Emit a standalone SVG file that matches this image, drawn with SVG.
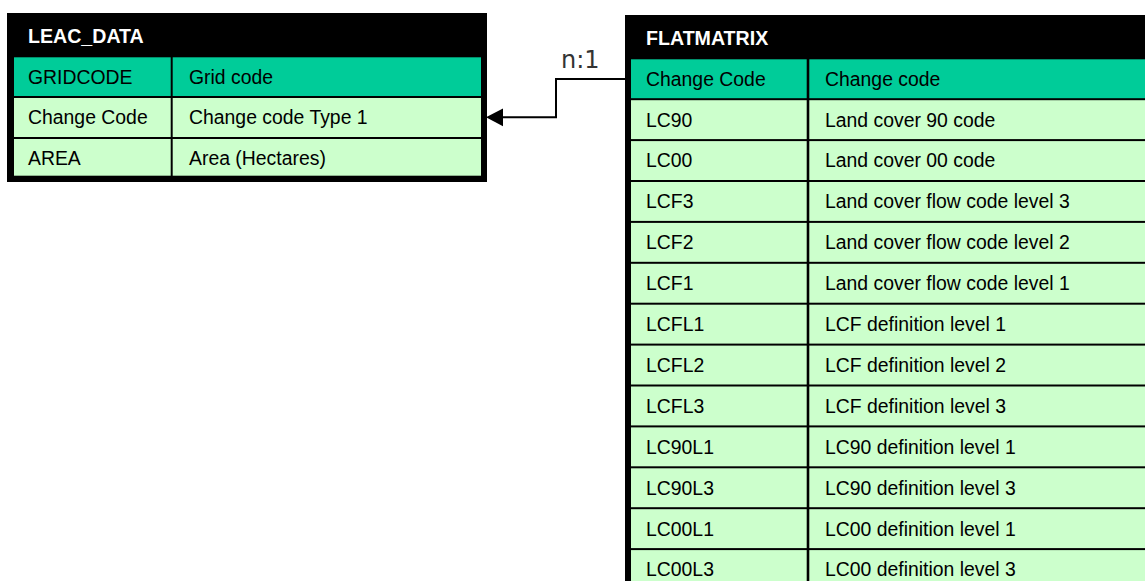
<svg xmlns="http://www.w3.org/2000/svg" width="1145" height="581" viewBox="0 0 1145 581">
<style>
.frame{fill:#000}
.key{fill:#00CC99}
.cell{fill:#CCFFCC}
.hdr{font-family:"Liberation Sans",Arial,sans-serif;font-weight:bold;font-size:19.6px;fill:#fff}
.t{font-family:"Liberation Sans",Arial,sans-serif;font-size:19.4px;fill:#000}
.lbl{font-family:"DejaVu Sans",Verdana,sans-serif;font-size:24px;fill:#333}
.conn{fill:none;stroke:#000;stroke-width:2}
</style>
<rect width="1145" height="581" fill="#fff"/>
<g id="LEAC_DATA">
<rect class="frame" x="7" y="13" width="480" height="169"/>
<text class="hdr" x="28" y="43">LEAC_DATA</text>
<rect class="key" x="14" y="57.3" width="156.7" height="38.7"/>
<rect class="key" x="172.7" y="57.3" width="308.3" height="38.7"/>
<rect class="cell" x="14" y="98" width="156.7" height="39"/>
<rect class="cell" x="172.7" y="98" width="308.3" height="39"/>
<rect class="cell" x="14" y="139" width="156.7" height="36.7"/>
<rect class="cell" x="172.7" y="139" width="308.3" height="36.7"/>
<text class="t" x="28" y="83.5">GRIDCODE</text>
<text class="t" x="189" y="83.5">Grid code</text>
<text class="t" x="28" y="124.3">Change Code</text>
<text class="t" x="189" y="124.3">Change code Type 1</text>
<text class="t" x="28" y="165.2">AREA</text>
<text class="t" x="189" y="165.2">Area (Hectares)</text>
</g>
<g id="FLATMATRIX">
<rect class="frame" x="625" y="15" width="530" height="580"/>
<text class="hdr" x="646" y="45">FLATMATRIX</text>
<rect class="key" x="631" y="59.3" width="175.7" height="38.9"/>
<rect class="key" x="809.3" y="59.3" width="340" height="38.9"/>
<text class="t" x="646" y="85.6">Change Code</text>
<text class="t" x="825" y="85.6">Change code</text>
<rect class="cell" x="631" y="100.2" width="175.7" height="38.9"/>
<rect class="cell" x="809.3" y="100.2" width="340" height="38.9"/>
<text class="t" x="646" y="126.5">LC90</text>
<text class="t" x="825" y="126.5">Land cover 90 code</text>
<rect class="cell" x="631" y="141.1" width="175.7" height="38.9"/>
<rect class="cell" x="809.3" y="141.1" width="340" height="38.9"/>
<text class="t" x="646" y="167.4">LC00</text>
<text class="t" x="825" y="167.4">Land cover 00 code</text>
<rect class="cell" x="631" y="182" width="175.7" height="38.9"/>
<rect class="cell" x="809.3" y="182" width="340" height="38.9"/>
<text class="t" x="646" y="208.3">LCF3</text>
<text class="t" x="825" y="208.3">Land cover flow code level 3</text>
<rect class="cell" x="631" y="222.9" width="175.7" height="38.9"/>
<rect class="cell" x="809.3" y="222.9" width="340" height="38.9"/>
<text class="t" x="646" y="249.2">LCF2</text>
<text class="t" x="825" y="249.2">Land cover flow code level 2</text>
<rect class="cell" x="631" y="263.8" width="175.7" height="38.9"/>
<rect class="cell" x="809.3" y="263.8" width="340" height="38.9"/>
<text class="t" x="646" y="290.1">LCF1</text>
<text class="t" x="825" y="290.1">Land cover flow code level 1</text>
<rect class="cell" x="631" y="304.7" width="175.7" height="38.9"/>
<rect class="cell" x="809.3" y="304.7" width="340" height="38.9"/>
<text class="t" x="646" y="331">LCFL1</text>
<text class="t" x="825" y="331">LCF definition level 1</text>
<rect class="cell" x="631" y="345.6" width="175.7" height="38.9"/>
<rect class="cell" x="809.3" y="345.6" width="340" height="38.9"/>
<text class="t" x="646" y="371.9">LCFL2</text>
<text class="t" x="825" y="371.9">LCF definition level 2</text>
<rect class="cell" x="631" y="386.5" width="175.7" height="38.9"/>
<rect class="cell" x="809.3" y="386.5" width="340" height="38.9"/>
<text class="t" x="646" y="412.8">LCFL3</text>
<text class="t" x="825" y="412.8">LCF definition level 3</text>
<rect class="cell" x="631" y="427.4" width="175.7" height="38.9"/>
<rect class="cell" x="809.3" y="427.4" width="340" height="38.9"/>
<text class="t" x="646" y="453.7">LC90L1</text>
<text class="t" x="825" y="453.7">LC90 definition level 1</text>
<rect class="cell" x="631" y="468.3" width="175.7" height="38.9"/>
<rect class="cell" x="809.3" y="468.3" width="340" height="38.9"/>
<text class="t" x="646" y="494.6">LC90L3</text>
<text class="t" x="825" y="494.6">LC90 definition level 3</text>
<rect class="cell" x="631" y="509.2" width="175.7" height="38.9"/>
<rect class="cell" x="809.3" y="509.2" width="340" height="38.9"/>
<text class="t" x="646" y="535.5">LC00L1</text>
<text class="t" x="825" y="535.5">LC00 definition level 1</text>
<rect class="cell" x="631" y="550.1" width="175.7" height="38.9"/>
<rect class="cell" x="809.3" y="550.1" width="340" height="38.9"/>
<text class="t" x="646" y="576.4">LC00L3</text>
<text class="t" x="825" y="576.4">LC00 definition level 3</text>
</g>
<g id="connectors">
<path class="conn" d="M626,79 H556 V117.3 H502"/>
<polygon points="486,117.3 503,108.5 503,126.3" fill="#000"/>
<text class="lbl" x="561" y="68">n:1</text>
</g>
</svg>
